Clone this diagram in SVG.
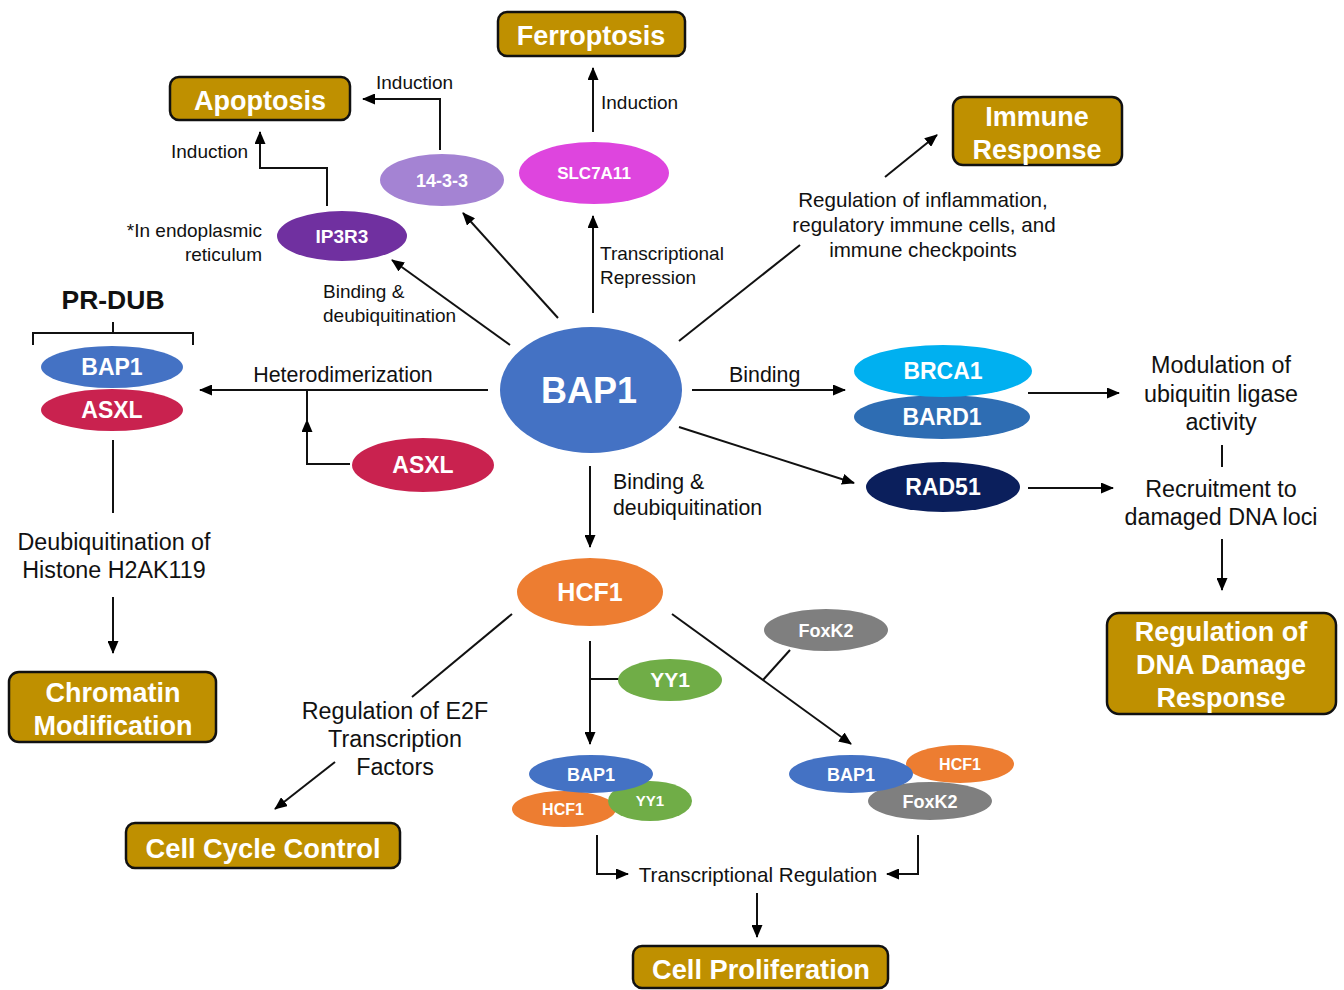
<svg xmlns="http://www.w3.org/2000/svg" width="1344" height="990" viewBox="0 0 1344 990">
<defs>
<marker id="ah" markerUnits="userSpaceOnUse" markerWidth="13" markerHeight="11" refX="12" refY="5.5" orient="auto"><path d="M0,0 L13,5.5 L0,11 z" fill="#000"/></marker>
<style>
text{font-family:"Liberation Sans",Arial,sans-serif}
.box{fill:#BF9000;stroke:#111;stroke-width:2.5}
.bt{fill:#fff;font-weight:bold;font-size:27px;text-anchor:middle}
.et{fill:#fff;font-weight:bold;text-anchor:middle}
.lb{fill:#111;font-size:19px}
.lc{fill:#111;font-size:23.3px;text-anchor:middle}
.ln{fill:none;stroke:#111;stroke-width:2}
.ar{fill:none;stroke:#111;stroke-width:2;marker-end:url(#ah)}
</style>
</defs>
<rect width="1344" height="990" fill="#fff"/>

<g id="connectors">
<path class="ar" d="M558,318 L463,213"/>
<path class="ar" d="M510,345 L392,260"/>
<path class="ar" d="M593,313 L593,216"/>
<path class="ar" d="M593,132 L593,68"/>
<path class="ar" d="M440,150 L440,99 L363,99"/>
<path class="ar" d="M327,206 L327,168 L260,168 L260,132"/>
<path class="ln" d="M679,341 L800,245"/>
<path class="ar" d="M885,177 L937,135"/>
<path class="ar" d="M488,390 L200,390"/>
<path class="ar" d="M350,464 L307,464 L307,420"/>
<path class="ln" d="M307,422 L307,390"/>
<path class="ln" d="M113,440 L113,513"/>
<path class="ar" d="M113,597 L113,653"/>
<path class="ar" d="M692,390 L845,390"/>
<path class="ar" d="M679,427 L854,483"/>
<path class="ar" d="M1028,393 L1119,393"/>
<path class="ar" d="M1028,488 L1113,488"/>
<path class="ln" d="M1222,445 L1222,467"/>
<path class="ar" d="M1222,539 L1222,590"/>
<path class="ar" d="M590,466 L590,547"/>
<path class="ln" d="M512,614 L412,697"/>
<path class="ar" d="M335,762 L275,809"/>
<path class="ar" d="M590,641 L590,744"/>
<path class="ln" d="M590,679 L620,679"/>
<path class="ar" d="M672,614 L851,744"/>
<path class="ln" d="M790,650 L763,680"/>
<path class="ar" d="M597,835 L597,874 L628,874"/>
<path class="ar" d="M918,835 L918,874 L887,874"/>
<path class="ar" d="M757,893 L757,937"/>
</g>

<g id="ferroptosis"><rect class="box" x="498" y="12" width="187" height="44" rx="9"/><text class="bt" x="591" y="45">Ferroptosis</text></g>
<g id="apoptosis"><rect class="box" x="170" y="77" width="180" height="43" rx="9"/><text class="bt" x="260" y="110">Apoptosis</text></g>
<g id="immune-response"><rect class="box" x="953" y="97" width="169" height="68" rx="10"/><text class="bt" x="1037" y="126">Immune</text><text class="bt" x="1037" y="159">Response</text></g>
<g id="chromatin-modification"><rect class="box" x="9" y="672" width="207" height="70" rx="10"/><text class="bt" x="113" y="702">Chromatin</text><text class="bt" x="113" y="735">Modification</text></g>
<g id="cell-cycle-control"><rect class="box" x="126" y="823" width="274" height="45" rx="9"/><text class="bt" x="263" y="858" textLength="235" lengthAdjust="spacingAndGlyphs">Cell Cycle Control</text></g>
<g id="cell-proliferation"><rect class="box" x="633" y="946" width="255" height="42" rx="9"/><text class="bt" x="761" y="979" textLength="218" lengthAdjust="spacingAndGlyphs">Cell Proliferation</text></g>
<g id="dna-damage-response"><rect class="box" x="1107" y="613" width="229" height="101" rx="12"/><text class="bt" x="1221" y="641">Regulation of</text><text class="bt" x="1221" y="674">DNA Damage</text><text class="bt" x="1221" y="707">Response</text></g>

<g id="bap1"><ellipse cx="591" cy="390" rx="91" ry="63" fill="#4472C4"/><text class="et" x="589" y="403" font-size="36">BAP1</text></g>
<g id="n14-3-3"><ellipse cx="442" cy="180" rx="62" ry="26" fill="#A483D3"/><text class="et" x="442" y="187" font-size="18">14-3-3</text></g>
<g id="slc7a11"><ellipse cx="594" cy="173" rx="75" ry="31" fill="#DE45DE"/><text class="et" x="594" y="179" font-size="17">SLC7A11</text></g>
<g id="ip3r3"><ellipse cx="342" cy="236" rx="65" ry="25" fill="#7030A0"/><text class="et" x="342" y="243" font-size="19">IP3R3</text></g>
<g id="pr-dub">
<text x="113" y="309" font-size="26.5" font-weight="bold" text-anchor="middle" fill="#111">PR-DUB</text>
<path class="ln" d="M33,345 L33,333 L193,333 L193,345 M113,333 L113,322"/>
<ellipse cx="112" cy="367" rx="71" ry="21" fill="#4472C4"/><text class="et" x="112" y="375" font-size="23">BAP1</text>
<ellipse cx="112" cy="410" rx="71" ry="21" fill="#C9224F"/><text class="et" x="112" y="418" font-size="23">ASXL</text>
</g>
<g id="asxl"><ellipse cx="423" cy="465" rx="71" ry="27" fill="#C9224F"/><text class="et" x="423" y="473" font-size="23">ASXL</text></g>
<g id="brca1-bard1">
<ellipse cx="942" cy="417" rx="88" ry="22" fill="#2E6DB3"/><text class="et" x="942" y="425" font-size="23">BARD1</text>
<ellipse cx="943" cy="371" rx="89" ry="26" fill="#00B0F0"/><text class="et" x="943" y="379" font-size="23">BRCA1</text>
</g>
<g id="rad51"><ellipse cx="943" cy="487" rx="77" ry="25" fill="#0B1F5C"/><text class="et" x="943" y="495" font-size="23">RAD51</text></g>
<g id="hcf1"><ellipse cx="590" cy="592" rx="73" ry="34" fill="#ED7D31"/><text class="et" x="590" y="601" font-size="25">HCF1</text></g>
<g id="foxk2"><ellipse cx="826" cy="630" rx="62" ry="21" fill="#7F7F7F"/><text class="et" x="826" y="637" font-size="18">FoxK2</text></g>
<g id="yy1"><ellipse cx="670" cy="680" rx="52" ry="21" fill="#70AD47"/><text class="et" x="670" y="687" font-size="21">YY1</text></g>
<g id="complex-yy1">
<ellipse cx="564" cy="809" rx="52" ry="18" fill="#ED7D31"/><text class="et" x="563" y="815" font-size="16">HCF1</text>
<ellipse cx="650" cy="801" rx="42" ry="20" fill="#70AD47"/><text class="et" x="650" y="806" font-size="15">YY1</text>
<ellipse cx="591" cy="774" rx="62" ry="19" fill="#4472C4"/><text class="et" x="591" y="781" font-size="18">BAP1</text>
</g>
<g id="complex-foxk2">
<ellipse cx="960" cy="764" rx="54" ry="19" fill="#ED7D31"/><text class="et" x="960" y="770" font-size="16">HCF1</text>
<ellipse cx="930" cy="801" rx="62" ry="19" fill="#7F7F7F"/><text class="et" x="930" y="808" font-size="18">FoxK2</text>
<ellipse cx="851" cy="774" rx="62" ry="19" fill="#4472C4"/><text class="et" x="851" y="781" font-size="18">BAP1</text>
</g>

<g id="labels">
<text class="lb" x="376" y="89">Induction</text>
<text class="lb" x="171" y="158">Induction</text>
<text class="lb" x="601" y="109">Induction</text>
<text class="lb" x="262" y="237" text-anchor="end">*In endoplasmic</text>
<text class="lb" x="262" y="261" text-anchor="end">reticulum</text>
<text class="lb" x="323" y="298">Binding &amp;</text>
<text class="lb" x="323" y="322">deubiquitination</text>
<text class="lb" x="600" y="260">Transcriptional</text>
<text class="lb" x="600" y="284">Repression</text>
<text class="lb" x="923" y="207" text-anchor="middle" style="font-size:20.6px">Regulation of inflammation,</text>
<text class="lb" x="924" y="232" text-anchor="middle" style="font-size:20.6px">regulatory immune cells, and</text>
<text class="lb" x="923" y="257" text-anchor="middle" style="font-size:20.6px">immune checkpoints</text>
<text class="lb" x="343" y="382" text-anchor="middle" style="font-size:21.4px">Heterodimerization</text>
<text class="lb" x="729" y="382" style="font-size:21.4px">Binding</text>
<text class="lb" x="613" y="489" style="font-size:21.3px">Binding &amp;</text>
<text class="lb" x="613" y="515" style="font-size:21.3px">deubiquitination</text>
<text class="lc" x="1221" y="373">Modulation of</text>
<text class="lc" x="1221" y="402">ubiquitin ligase</text>
<text class="lc" x="1221" y="430">activity</text>
<text class="lc" x="1221" y="497">Recruitment to</text>
<text class="lc" x="1221" y="525">damaged DNA loci</text>
<text class="lc" x="114" y="550">Deubiquitination of</text>
<text class="lc" x="114" y="578">Histone H2AK119</text>
<text class="lc" x="395" y="719">Regulation of E2F</text>
<text class="lc" x="395" y="747">Transcription</text>
<text class="lc" x="395" y="775">Factors</text>
<text class="lb" x="758" y="882" text-anchor="middle" style="font-size:20.6px">Transcriptional Regulation</text>
</g>
</svg>
